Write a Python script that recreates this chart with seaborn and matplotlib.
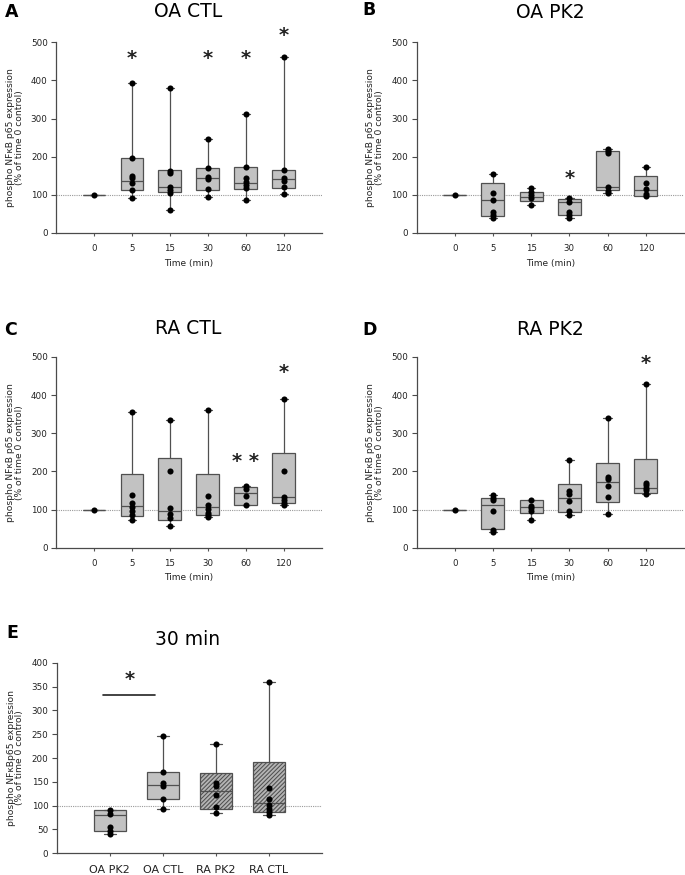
import matplotlib
matplotlib.use("Agg")
import matplotlib.pyplot as plt
import numpy as np
import pandas as pd
import seaborn as sns

# ---------------- data ----------------
times = ['0', '5', '15', '30', '60', '120']

# A: OA CTL
oa_ctl_points = [[100],
                 [393, 197, 150, 143, 132, 112, 91],
                 [381, 163, 157, 121, 112, 106, 60],
                 [246, 170, 148, 141, 115, 94],
                 [313, 173, 145, 135, 127, 118, 86],
                 [462, 165, 144, 137, 120, 102]]
oa_ctl_q1 = [100, 112, 107, 114, 116, 118]
oa_ctl_med = [100, 137, 121, 144, 132, 141]
oa_ctl_q3 = [100, 197, 164, 170, 174, 164]
oa_ctl_sig = ['', '*', '', '*', '*', '*']
oa_ctl_sig_y = [0, 458, 0, 458, 458, 518]

# B: OA PK2
oa_pk2_points = [[100],
                 [156, 105, 86, 55, 46, 39],
                 [117, 107, 100, 92, 73],
                 [91, 82, 56, 47, 40],
                 [220, 215, 210, 120, 110, 104],
                 [174, 131, 115, 103, 96]]
oa_pk2_q1 = [100, 45, 83, 46, 112, 98]
oa_pk2_med = [100, 86, 95, 81, 120, 113]
oa_pk2_q3 = [100, 131, 108, 90, 215, 150]
oa_pk2_sig = ['', '', '', '*', '', '']
oa_pk2_sig_y = [0, 0, 0, 142, 0, 0]

# C: RA CTL
ra_ctl_points = [[100],
                 [355, 139, 116, 106, 96, 87, 72],
                 [334, 202, 105, 88, 77, 56],
                 [360, 136, 113, 101, 92, 86, 80],
                 [163, 155, 136, 111],
                 [389, 202, 134, 125, 117, 112]]
ra_ctl_q1 = [100, 83, 72, 87, 111, 117]
ra_ctl_med = [100, 109, 96, 106, 143, 133]
ra_ctl_q3 = [100, 192, 234, 192, 160, 248]
ra_ctl_sig = ['', '', '', '', '* *', '*']
ra_ctl_sig_y = [0, 0, 0, 0, 226, 460]

# D: RA PK2
ra_pk2_points = [[100],
                 [138, 131, 125, 97, 47, 42],
                 [124, 110, 103, 96, 73],
                 [230, 148, 141, 122, 97, 85],
                 [340, 185, 180, 163, 133, 88],
                 [430, 170, 164, 157, 151, 142]]
ra_pk2_q1 = [100, 48, 90, 93, 121, 143]
ra_pk2_med = [100, 111, 106, 130, 171, 156]
ra_pk2_q3 = [100, 130, 124, 168, 222, 233]
ra_pk2_sig = ['', '', '', '', '', '*']
ra_pk2_sig_y = [0, 0, 0, 0, 0, 484]

# E: 30 min comparison
e_groups = ['OA PK2', 'OA CTL', 'RA PK2', 'RA CTL']
e_hatched = [False, False, True, True]

# ---------------- style ----------------
sns.set_theme(style="ticks")
plt.rcParams['font.family'] = ['DejaVu Sans']
plt.rcParams['hatch.color'] = '#2e2e2e'
plt.rcParams['hatch.linewidth'] = 0.75

W, H = 685, 875
fig = plt.figure(figsize=(W / 100, H / 100), dpi=100)

EDGE = '#505050'
FACE = '#c2c2c2'
TXT = '#222222'


def px_axes(left, top, right, bottom):
    return fig.add_axes([left / W, 1 - bottom / H, (right - left) / W, (bottom - top) / H])


def draw_panel(ax, cats, points, q1, med, q3, ymax, ystep, ylabel, hatched=None,
               xlabel=None, xtick_size=6.2, xpad=5.5):
    n = len(cats)
    stats = []
    for i in range(n):
        stats.append(dict(med=med[i], q1=q1[i], q3=q3[i],
                          whislo=min(points[i]), whishi=max(points[i]), fliers=[]))
    lp = dict(color=EDGE, linewidth=0.9)
    bp = ax.bxp(stats, positions=list(range(n)), widths=0.6, capwidths=0.22,
                patch_artist=True, showfliers=False, manage_ticks=False,
                boxprops=dict(facecolor=FACE, edgecolor=EDGE, linewidth=0.9),
                medianprops=lp, whiskerprops=lp, capprops=lp)
    if hatched is not None:
        for box, h in zip(bp['boxes'], hatched):
            if h:
                box.set_hatch('////////')
                box.set_facecolor('#b4b4b4')
    df = pd.DataFrame({'cat': [c for c, p in zip(cats, points) for _ in p],
                       'value': [v for p in points for v in p]})
    sns.stripplot(data=df, x='cat', y='value', order=cats, jitter=False,
                  color='black', size=4.4, linewidth=0, ax=ax, zorder=4)
    ax.axhline(100, color='#9a9a9a', linestyle=(0, (1, 1)), linewidth=0.8, zorder=0.5)
    ax.set_xlim(-1, n)
    ax.set_ylim(0, ymax)
    ax.set_yticks(np.arange(0, ymax + 1, ystep))
    ax.set_xticks(range(n))
    ax.set_xticklabels(cats)
    for s in ['top', 'right']:
        ax.spines[s].set_visible(False)
    for s in ['left', 'bottom']:
        ax.spines[s].set_color('#4a4a4a')
        ax.spines[s].set_linewidth(0.9)
    ax.tick_params(axis='y', labelsize=6.3, length=3.5, width=0.8, color='#4a4a4a',
                   pad=2.5, labelcolor=TXT)
    ax.tick_params(axis='x', labelsize=xtick_size, length=2.5, width=0.8, color='#555555',
                   pad=xpad, labelcolor=TXT)
    ax.set_ylabel(ylabel, fontsize=6.6, color=TXT, linespacing=0.95)
    ax.yaxis.set_label_coords(-0.122, 0.5)
    if xlabel:
        ax.set_xlabel(xlabel, fontsize=6.5, color=TXT)
        ax.xaxis.set_label_coords(0.5, -0.135)
    else:
        ax.set_xlabel('')
    ax.set_facecolor('white')


def add_sig(ax, marks, ys):
    for i, (m, y) in enumerate(zip(marks, ys)):
        if m:
            ax.text(i, y, m, ha='center', va='center', fontsize=14, fontweight='bold',
                    color=TXT, clip_on=False)


ylab = 'phospho NF\u03baB p65 expression\n(% of time 0 control)'
ylab_e = 'phospho NF\u03baBp65 expression\n(% of time 0 control)'

axA = px_axes(56, 42.3, 321.7, 233)
draw_panel(axA, times, oa_ctl_points, oa_ctl_q1, oa_ctl_med, oa_ctl_q3, 500, 100, ylab,
           xlabel='Time (min)')
add_sig(axA, oa_ctl_sig, oa_ctl_sig_y)

axB = px_axes(416.5, 42.3, 684, 233)
draw_panel(axB, times, oa_pk2_points, oa_pk2_q1, oa_pk2_med, oa_pk2_q3, 500, 100, ylab,
           xlabel='Time (min)')
add_sig(axB, oa_pk2_sig, oa_pk2_sig_y)

axC = px_axes(56, 357, 321.7, 547.7)
draw_panel(axC, times, ra_ctl_points, ra_ctl_q1, ra_ctl_med, ra_ctl_q3, 500, 100, ylab,
           xlabel='Time (min)')
add_sig(axC, ra_ctl_sig, ra_ctl_sig_y)

axD = px_axes(416.5, 357, 684, 547.7)
draw_panel(axD, times, ra_pk2_points, ra_pk2_q1, ra_pk2_med, ra_pk2_q3, 500, 100, ylab,
           xlabel='Time (min)')
add_sig(axD, ra_pk2_sig, ra_pk2_sig_y)

k = times.index('30')
e_points = [oa_pk2_points[k], oa_ctl_points[k], ra_pk2_points[k], ra_ctl_points[k]]
e_q1 = [oa_pk2_q1[k], oa_ctl_q1[k], ra_pk2_q1[k], ra_ctl_q1[k]]
e_med = [oa_pk2_med[k], oa_ctl_med[k], ra_pk2_med[k], ra_ctl_med[k]]
e_q3 = [oa_pk2_q3[k], oa_ctl_q3[k], ra_pk2_q3[k], ra_ctl_q3[k]]

axE = px_axes(56.7, 662.7, 321.7, 853.3)
draw_panel(axE, e_groups, e_points, e_q1, e_med, e_q3, 400, 50, ylab_e,
           hatched=e_hatched, xtick_size=8, xpad=6)
axE.plot([0 - 0.13, 1 - 0.14], [333, 333], color=TXT, linewidth=1.2, clip_on=False)
axE.text(0.37, 364, '*', ha='center', va='center', fontsize=14, fontweight='bold',
         color=TXT, clip_on=False)

# titles and panel letters
titles = [('OA CTL', 188, 16.7, 13.5), ('OA PK2', 550, 18, 13.5),
          ('RA CTL', 188, 334, 13.5), ('RA PK2', 550, 335, 13.5),
          ('30 min', 188, 645, 13.5)]
for t, x, y, fs in titles:
    fig.text(x / W, 1 - y / H, t, ha='center', va='baseline', fontsize=fs, color='black')

letters = [('A', 5, 16.7), ('B', 362, 15), ('C', 4, 335), ('D', 362, 335), ('E', 6, 638)]
for t, x, y in letters:
    fig.text(x / W, 1 - y / H, t, ha='left', va='baseline', fontsize=12.5,
             fontweight='bold', color='black')

fig.savefig('out.png', dpi=100, facecolor='white')
